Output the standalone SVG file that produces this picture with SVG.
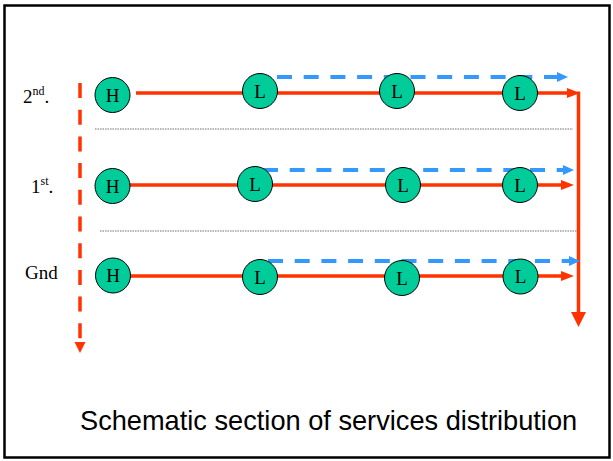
<svg xmlns="http://www.w3.org/2000/svg" width="613" height="461" viewBox="0 0 613 461">
<style>
.node circle{fill:#00CC99;stroke:#000;stroke-width:1}
.node text{font-family:"Liberation Serif","Times New Roman",serif;font-size:19px;text-anchor:middle;fill:#000}
.red{stroke:#FF3300;stroke-width:3.5;fill:none}
.blue{stroke:#3399FF;stroke-width:4;fill:none;stroke-dasharray:15 11.7}
.sep{stroke:#A0A0A0;stroke-width:1.4;stroke-dasharray:1.5 1}
.lbl{font-family:"Liberation Serif","Times New Roman",serif;font-size:19px;fill:#000}
</style>
<defs>
<marker id="ar" markerUnits="userSpaceOnUse" markerWidth="14" markerHeight="12" refX="0" refY="5" orient="auto" overflow="visible"><path d="M0,0 L13,5 L0,10 Z" fill="#FF3300"/></marker>
<marker id="ab" markerUnits="userSpaceOnUse" markerWidth="12" markerHeight="12" refX="0" refY="5" orient="auto" overflow="visible"><path d="M0,0 L11,5 L0,10 Z" fill="#3399FF"/></marker>
<marker id="arBig" markerUnits="userSpaceOnUse" markerWidth="16" markerHeight="16" refX="0" refY="7.5" orient="auto" overflow="visible"><path d="M0,0 L15,7.5 L0,15 Z" fill="#FF3300"/></marker>
<marker id="arL" markerUnits="userSpaceOnUse" markerWidth="12" markerHeight="12" refX="0" refY="5.5" orient="auto" overflow="visible"><path d="M0,0 L11,5.5 L0,11 Z" fill="#FF3300"/></marker>
</defs>
<rect x="4.5" y="5.5" width="605" height="452" fill="#fff" stroke="#000" stroke-width="2.5"/>
<g id="separators">
<line class="sep" x1="95" y1="129" x2="573" y2="129"/>
<line class="sep" x1="100" y1="231" x2="577" y2="231"/>
</g>
<g id="connectors">
<line class="red" x1="80" y1="83" x2="80" y2="342" stroke-width="4" stroke-dasharray="15 11.7" marker-end="url(#arL)"/>
<line class="red" x1="136" y1="93" x2="567" y2="93" marker-end="url(#ar)"/>
<line class="red" x1="578.5" y1="91.5" x2="578.5" y2="312" stroke-width="4.5" marker-end="url(#arBig)"/>
<line class="red" x1="112" y1="185" x2="561" y2="185" marker-end="url(#ar)"/>
<line class="red" x1="112" y1="276" x2="561" y2="276" marker-end="url(#ar)"/>
<line class="blue" x1="277" y1="77" x2="557" y2="77" marker-end="url(#ab)"/>
<line class="blue" x1="263" y1="170" x2="563" y2="170" marker-end="url(#ab)"/>
<line class="blue" x1="268" y1="261" x2="569" y2="261" marker-end="url(#ab)"/>
</g>
<g id="labels">
<text class="lbl" x="23" y="103">2<tspan font-size="12" dy="-8">nd</tspan><tspan dy="8">.</tspan></text>
<text class="lbl" x="31" y="193">1<tspan font-size="12" dy="-8">st</tspan><tspan dy="8">.</tspan></text>
<text class="lbl" x="25" y="279" font-size="20">Gnd</text>
</g>
<g id="n2H" class="node"><circle cx="112.5" cy="95" r="17.5"/><text x="112.5" y="101.5">H</text></g>
<g id="n2L1" class="node"><circle cx="260" cy="91" r="17.5"/><text x="260" y="97.5">L</text></g>
<g id="n2L2" class="node"><circle cx="397" cy="91" r="17.5"/><text x="397" y="97.5">L</text></g>
<g id="n2L3" class="node"><circle cx="520" cy="93" r="17.5"/><text x="520" y="99.5">L</text></g>
<g id="n1H" class="node"><circle cx="112.5" cy="186" r="17.5"/><text x="112.5" y="192.5">H</text></g>
<g id="n1L1" class="node"><circle cx="255" cy="184" r="17.5"/><text x="255" y="190.5">L</text></g>
<g id="n1L2" class="node"><circle cx="403" cy="185" r="17.5"/><text x="403" y="191.5">L</text></g>
<g id="n1L3" class="node"><circle cx="520" cy="185" r="17.5"/><text x="520" y="191.5">L</text></g>
<g id="n0H" class="node"><circle cx="113" cy="275.5" r="17.5"/><text x="113" y="282">H</text></g>
<g id="n0L1" class="node"><circle cx="260" cy="277" r="17.5"/><text x="260" y="283.5">L</text></g>
<g id="n0L2" class="node"><circle cx="402" cy="278" r="17.5"/><text x="402" y="284.5">L</text></g>
<g id="n0L3" class="node"><circle cx="520.5" cy="276.5" r="17.5"/><text x="520.5" y="283">L</text></g>
<text x="80" y="430" font-family="'Liberation Sans',Arial,sans-serif" font-size="27.2" fill="#000">Schematic section of services distribution</text>
</svg>
